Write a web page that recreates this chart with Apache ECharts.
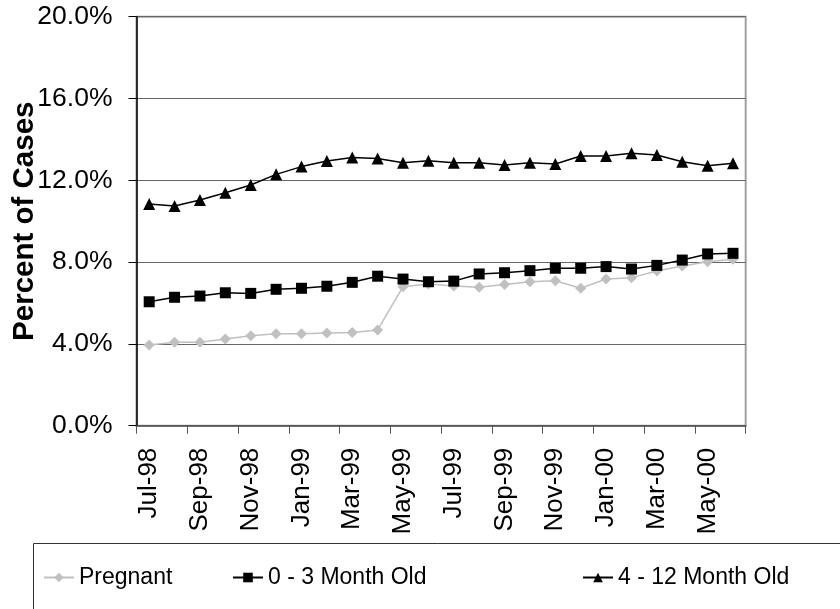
<!DOCTYPE html>
<html>
<head>
<meta charset="utf-8">
<script src="https://cdn.jsdelivr.net/npm/echarts@6/dist/echarts.min.js"></script>
<style>
html,body{margin:0;padding:0;background:#fff;}
#c{width:840px;height:609px;}
</style>
</head>
<body>
<div id="c"></div>
<script>
var categories = ['Jul-98','Aug-98','Sep-98','Oct-98','Nov-98','Dec-98','Jan-99','Feb-99','Mar-99','Apr-99','May-99','Jun-99','Jul-99','Aug-99','Sep-99','Oct-99','Nov-99','Dec-99','Jan-00','Feb-00','Mar-00','Apr-00','May-00','Jun-00'];
var pregnant = [3.95,4.08,4.08,4.24,4.40,4.50,4.50,4.53,4.56,4.68,6.80,6.93,6.83,6.77,6.91,7.04,7.09,6.72,7.17,7.24,7.56,7.81,8.02,8.14];
var infant03 = [6.06,6.28,6.34,6.50,6.47,6.67,6.72,6.82,7.01,7.31,7.17,7.04,7.07,7.42,7.48,7.58,7.70,7.70,7.78,7.66,7.84,8.10,8.40,8.43];
var infant412 = [10.84,10.74,11.04,11.39,11.77,12.29,12.67,12.94,13.11,13.07,12.86,12.96,12.86,12.86,12.75,12.86,12.80,13.19,13.19,13.32,13.24,12.91,12.71,12.83];
var seriesNames = ['Pregnant','0 - 3 Month Old','4 - 12 Month Old'];
var yTicks = [0,4,8,12,16,20];

var FONT = '"Liberation Sans", Arial, sans-serif';
var chart = echarts.init(document.getElementById('c'), null, {renderer:'canvas'});
function legendCfg(name, left){
  return {
    data:[name], left:left, top:566, padding:0, itemWidth:30, itemHeight:12, itemGap:0,
    textStyle:{fontFamily:FONT, fontSize:23, color:'#000'},
    selectedMode:false
  };
}
chart.setOption({
  animation:false,
  backgroundColor:'#fff',
  grid:{left:136.5, right:94.3, top:16.7, bottom:183.3, containLabel:false, outerBoundsMode:'none',
        show:true, borderColor:'#a0a0a0', borderWidth:2, backgroundColor:'transparent'},
  graphic:[{type:'rect', shape:{x:33.5, y:543.5, width:830, height:100}, style:{fill:'none', stroke:'#333', lineWidth:1}, z:-1}],
  legend:[legendCfg(seriesNames[0],43), legendCfg(seriesNames[1],232), legendCfg(seriesNames[2],582)],
  xAxis:{
    type:'category', data:categories, boundaryGap:true,
    axisLine:{lineStyle:{color:'#555', width:1.5}},
    axisTick:{show:true, interval:1, length:8, inside:false, lineStyle:{color:'#555'}},
    axisLabel:{interval:1, rotate:90, margin:22, fontFamily:FONT, fontSize:26, color:'#000'},
    splitLine:{show:false}
  },
  yAxis:{
    type:'value', min:yTicks[0], max:yTicks[yTicks.length-1], interval:4,
    name:'Percent of Cases', nameLocation:'middle', nameRotate:90, nameGap:97, nameMoveOverlap:false,
    nameTextStyle:{fontFamily:FONT, fontSize:29.5, fontWeight:'bold', color:'#000'},
    axisLine:{show:true, lineStyle:{color:'#000', width:1.5}},
    axisTick:{show:true, length:8, lineStyle:{color:'#000'}},
    axisLabel:{margin:24, fontFamily:FONT, fontSize:26.5, color:'#000', formatter:function(v){return v.toFixed(1)+'%';}},
    splitLine:{show:true, lineStyle:{color:'#666', width:1.2}}
  },
  series:[
    {name:seriesNames[0], type:'line', data:pregnant, symbol:'diamond', symbolSize:11, showAllSymbol:true,
     itemStyle:{color:'#c0c0c0'}, lineStyle:{color:'#c0c0c0', width:1.5}, z:2},
    {name:seriesNames[1], type:'line', data:infant03, symbol:'rect', symbolSize:11, showAllSymbol:true,
     itemStyle:{color:'#000'}, lineStyle:{color:'#000', width:1.5}, z:3},
    {name:seriesNames[2], type:'line', data:infant412, symbol:'triangle', symbolSize:12, showAllSymbol:true,
     itemStyle:{color:'#000'}, lineStyle:{color:'#000', width:1.5}, z:4}
  ]
});
</script>
</body>
</html>
